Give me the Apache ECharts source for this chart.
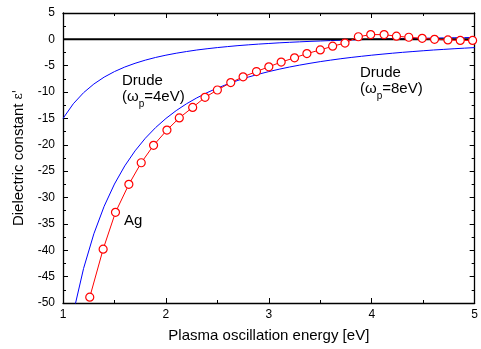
<!DOCTYPE html>
<html>
<head>
<meta charset="utf-8">
<script src="https://cdn.jsdelivr.net/npm/echarts@6/dist/echarts.min.js"></script>
<style>
  html, body { margin: 0; padding: 0; background: #fff; }
  #chart { width: 481px; height: 349px; }
</style>
</head>
<body>
<div id="chart"></div>
<script>
// Drude curves, sampled every 0.1 eV
const drudeEnergy = [1.0, 1.1, 1.2, 1.3, 1.4, 1.5, 1.6, 1.7, 1.8, 1.9, 2.0, 2.1, 2.2, 2.3, 2.4, 2.5, 2.6, 2.7, 2.8, 2.9,
  3.0, 3.1, 3.2, 3.3, 3.4, 3.5, 3.6, 3.7, 3.8, 3.9, 4.0, 4.1, 4.2, 4.3, 4.4, 4.5, 4.6, 4.7, 4.8, 4.9, 5.0];
const drude4 = [-15.0, -12.22, -10.11, -8.47, -7.16, -6.11, -5.25, -4.54, -3.94, -3.43, -3.00, -2.63, -2.31, -2.02, -1.78,
  -1.56, -1.37, -1.19, -1.04, -0.90, -0.78, -0.66, -0.56, -0.47, -0.38, -0.31, -0.23, -0.17, -0.11, -0.05, 0.00,
  0.05, 0.09, 0.13, 0.17, 0.21, 0.24, 0.28, 0.31, 0.33, 0.36];
const drude8 = [-63.0, -51.89, -43.44, -36.87, -31.65, -27.44, -24.00, -21.15, -18.75, -16.73, -15.00, -13.51, -12.22,
  -11.10, -10.11, -9.24, -8.47, -7.78, -7.16, -6.61, -6.11, -5.66, -5.25, -4.88, -4.54, -4.22, -3.94, -3.67, -3.43,
  -3.21, -3.00, -2.81, -2.63, -2.46, -2.31, -2.16, -2.02, -1.90, -1.78, -1.67, -1.56];

// Ag measured points
const agEnergy = [1.26, 1.39, 1.51, 1.64, 1.76, 1.88, 2.01, 2.13, 2.26, 2.38, 2.50, 2.63, 2.75, 2.88, 3.00, 3.12, 3.25,
  3.37, 3.50, 3.62, 3.74, 3.87, 3.99, 4.12, 4.24, 4.36, 4.49, 4.61, 4.74, 4.86, 4.98];
const agEps = [-48.9, -39.8, -32.8, -27.5, -23.4, -20.1, -17.2, -14.9, -12.9, -11.0, -9.6, -8.2, -7.1, -6.1, -5.2, -4.3,
  -3.5, -2.7, -2.0, -1.3, -0.7, 0.5, 0.9, 0.9, 0.6, 0.4, 0.2, 0.0, -0.1, -0.2, -0.2];

// zero reference line
const zeroX = [1, 5];
const zeroY = [0, 0];

const xTicks = { min: 1, max: 5, interval: 1 };
const yTicks = { min: -50, max: 5, interval: 5 };

const pairs = (xs, ys) => xs.map((x, i) => [x, ys[i]]);

const FONT = 'Liberation Sans, Arial, sans-serif';
const chart = echarts.init(document.getElementById('chart'));

const baseTick = {
  axisLine: { show: true, onZero: false, lineStyle: { color: '#000', width: 1.3 } },
  axisTick: { show: true, inside: true, length: 5, lineStyle: { color: '#000', width: 1 } },
  minorTick: { show: true, splitNumber: 2, length: 3, lineStyle: { color: '#000', width: 1 } },
  splitLine: { show: false },
  minorSplitLine: { show: false },
};

// subscript style for ω_p (pushed down with top padding)
const subStyle = { fontSize: 10, fontFamily: FONT, lineHeight: 6, padding: [10, 0, 0, 0], verticalAlign: 'top', fill: '#000' };

chart.setOption({
  animation: false,
  grid: { left: 63, right: 4, top: 13, bottom: 46 },
  xAxis: [
    {
      type: 'value', position: 'bottom', ...xTicks, ...baseTick,
      name: 'Plasma oscillation energy [eV]', nameLocation: 'middle', nameGap: 25,
      nameTextStyle: { color: '#000', fontSize: 15, fontFamily: FONT },
      axisLabel: { color: '#000', fontSize: 12, fontFamily: FONT, margin: 6 },
    },
    {
      type: 'value', position: 'top', ...xTicks, ...baseTick,
      axisLabel: { show: false },
    },
  ],
  yAxis: [
    {
      type: 'value', position: 'left', ...yTicks, ...baseTick,
      name: "Dielectric constant {e|ε'}", nameLocation: 'middle', nameGap: 37,
      nameTextStyle: { color: '#000', fontSize: 15, fontFamily: FONT,
        rich: { e: { fontSize: 12, fontFamily: 'DejaVu Serif', color: '#000' } } },
      axisLabel: { color: '#000', fontSize: 12, fontFamily: FONT, margin: 8 },
    },
    {
      type: 'value', position: 'right', ...yTicks, ...baseTick,
      axisLabel: { show: false },
    },
  ],
  series: [
    {
      name: 'Drude 4eV', type: 'line', data: pairs(drudeEnergy, drude4),
      showSymbol: false, symbol: 'none', clip: true,
      lineStyle: { color: '#0000ff', width: 1 },
    },
    {
      name: 'Drude 8eV', type: 'line', data: pairs(drudeEnergy, drude8),
      showSymbol: false, symbol: 'none', clip: true,
      lineStyle: { color: '#0000ff', width: 1 },
    },
    {
      name: 'zero', type: 'line', data: pairs(zeroX, zeroY),
      symbol: 'none', lineStyle: { color: '#000', width: 2 },
    },
    {
      name: 'Ag', type: 'line', data: pairs(agEnergy, agEps), clip: true,
      symbol: 'circle', symbolSize: 8,
      itemStyle: { color: '#fff', borderColor: '#ff0000', borderWidth: 1.2 },
      lineStyle: { color: '#ff0000', width: 1 },
    },
  ],
  graphic: [
    {
      type: 'text', x: 122, y: 73, silent: true,
      style: {
        text: 'Drude\n(ω{sub|p}=4eV)', fill: '#000', font: '15px ' + FONT, lineHeight: 16,
        rich: { sub: subStyle },
      },
    },
    {
      type: 'text', x: 360, y: 65, silent: true,
      style: {
        text: 'Drude\n(ω{sub|p}=8eV)', fill: '#000', font: '15px ' + FONT, lineHeight: 16,
        rich: { sub: subStyle },
      },
    },
    {
      type: 'text', x: 124, y: 213, silent: true,
      style: { text: 'Ag', fill: '#000', font: '15px ' + FONT },
    },
  ],
});
</script>
</body>
</html>
